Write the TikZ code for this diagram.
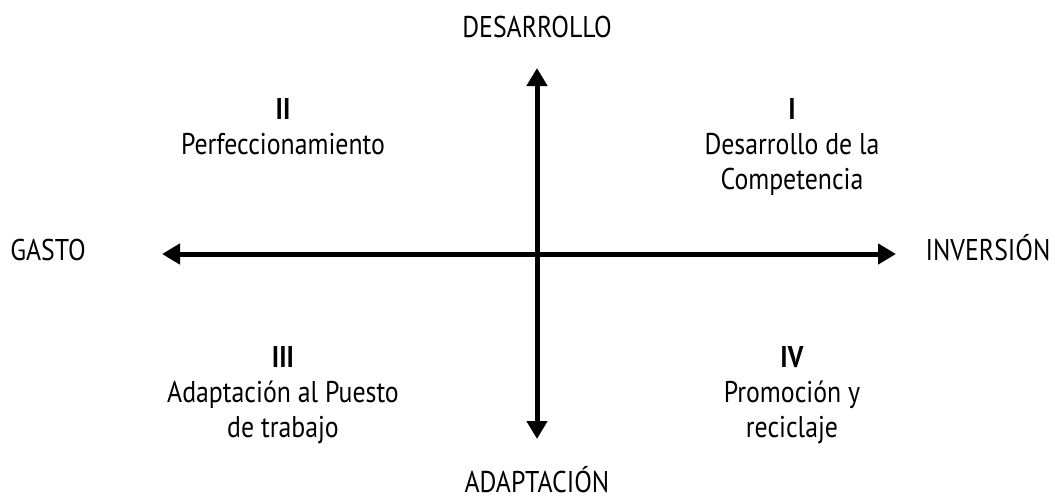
\documentclass[tikz,border=0pt]{standalone}
\usepackage{fontspec}
\setmainfont{PT Sans}[FakeStretch=0.86]
\usepackage{tikz}
\usetikzlibrary{arrows.meta}

\begin{document}
\begin{tikzpicture}[x=1pt, y=-1pt,
        eje/.style={line width=5pt, {Triangle[length=18pt,width=20pt]}-{Triangle[length=18pt,width=20pt]}},
        etiqueta/.style={anchor=base, inner sep=0pt, font=\fontsize{30}{35}\selectfont},
        cuadrante/.style={anchor=base, inner sep=0pt, align=center, font=\fontsize{30}{35}\selectfont}]
        \useasboundingbox (0,0) rectangle (1055,501);

        \coordinate (west) at (162,254);
        \coordinate (east) at (896,254);
        \coordinate (north) at (537,68);
        \coordinate (south) at (537,439);

        \node (desarrollo) at (537,37)[etiqueta] {DESARROLLO};
        \node (adaptacion) at (537,492)[etiqueta] {ADAPTACIÓN};
        \node (gasto) at (48,260)[etiqueta] {GASTO};
        \node (inversion) at (988,260)[etiqueta] {INVERSIÓN};

        % base = baseline of the last line
        \node (cuad-ii) at (283,154)[cuadrante] {\textbf{II}\\Perfeccionamiento};
        \node (cuad-i) at (792,189)[cuadrante] {\textbf{I}\\Desarrollo de la\\Competencia};
        \node (cuad-iii) at (283,437)[cuadrante] {\textbf{III}\\Adaptación al Puesto\\de trabajo};
        \node (cuad-iv) at (792,437)[cuadrante] {\textbf{IV}\\Promoción y\\reciclaje};

        \draw[eje] (west) -- (east);
        \draw[eje] (south) -- (north);
    \end{tikzpicture}
\end{document}
